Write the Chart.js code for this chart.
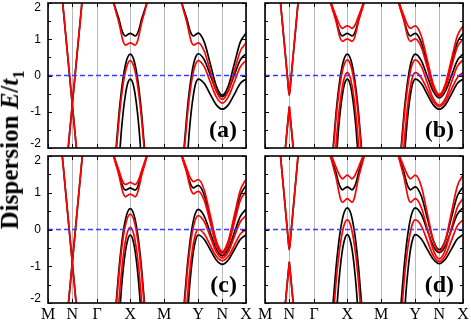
<!DOCTYPE html>
<html>
<head>
<meta charset="utf-8">
<script src="https://cdn.jsdelivr.net/npm/chart.js@4.4.0/dist/chart.umd.min.js"></script>
<style>
  html, body { margin: 0; padding: 0; background: #fff; }
  #wrap { position: relative; width: 471px; height: 321px; overflow: hidden; }
  #wrap canvas { position: absolute; left: 0; top: 0; }
  #ytitle { position: absolute; left: 12px; top: 150px; transform: translate(-50%, -50%) rotate(-90deg);
    white-space: nowrap; font: bold 25px "Liberation Serif", serif; color: #000; line-height: 1; }
  #ytitle sub { font-size: 0.65em; }
</style>
</head>
<body>
<div id="wrap">
  <canvas id="pa" width="471" height="321"></canvas>
  <canvas id="pb" width="471" height="321"></canvas>
  <canvas id="pc" width="471" height="321"></canvas>
  <canvas id="pd" width="471" height="321"></canvas>
  <div id="ytitle">Dispersion <i>E</i>/<i>t</i><sub>1</sub></div>
</div>
<script>
// high-symmetry path
const kPath = [0, 24.3, 49, 82.3, 116, 150.3, 174.3, 198];
const kLabels = ['M', 'N', 'Γ', 'X', 'M', 'Y', 'N', 'X'];
const eTicks = [-2, -1, 0, 1, 2];
const eMinor = [-1.5, -0.5, 0.5, 1.5];

// k samples: around X (dx -19..19), left of Y (dx -19..0), then Y -> N -> X
const kAroundX = [63.3, 65.8, 68.3, 71, 73.3, 75.3, 77.6, 79.8, 82.3, 84.8, 87, 89.3, 91.3, 93.6, 96.3, 98.8, 101.3];
const kYLeft = [131.3, 133.8, 136.3, 139, 141.3, 143.3, 145.6, 147.8, 150.3];
const kYNX = [156.3, 162.3, 168.3, 174.3, 180.3, 186.3, 192.3, 198];

// ---- panel (a) ----  half profiles (dx -19 .. 0), then Y->N->X
const aBlackX = [
  [2.22, 2.0, 1.78, 1.55, 1.3, 1.15, 1.09, 1.13, 1.16],
  [-4.05, -2.91, -1.93, -1.05, -0.45, -0.04, 0.31, 0.51, 0.59],
  [-6.56, -4.97, -3.61, -2.39, -1.55, -0.98, -0.5, -0.21, -0.1]
];
const aBlackY = [
  [2.22, 2.0, 1.78, 1.55, 1.3, 1.15, 1.09, 1.13, 1.17],
  [-4.04, -2.9, -1.92, -1.04, -0.44, -0.03, 0.32, 0.52, 0.6],
  [-6.56, -4.97, -3.61, -2.39, -1.55, -0.98, -0.5, -0.21, -0.1]
];
const aBlackN = [
  [0.92, 0.32, -0.29, -0.54, -0.29, 0.32, 0.92, 1.17],
  [0.43, 0.01, -0.41, -0.58, -0.41, 0.01, 0.43, 0.6],
  [-0.22, -0.52, -0.81, -0.93, -0.81, -0.52, -0.22, -0.1]
];
const aRedX = [
  [2.2, 1.97, 1.72, 1.45, 1.15, 0.93, 0.84, 0.87, 0.9],
  [-4.16, -3.04, -2.07, -1.21, -0.62, -0.21, 0.13, 0.33, 0.41]
];
const aRedY = aRedX;
const aRedN = [
  [0.67, 0.12, -0.43, -0.66, -0.43, 0.12, 0.67, 0.9],
  [0.24, -0.18, -0.59, -0.76, -0.59, -0.18, 0.24, 0.41]
];
const aDiracK = [[14.0, 24.3, 29.1], [19.5, 24.3, 34.6]];
const aDiracE = [[2.2, -0.8, -2.2], [-2.2, -0.8, 2.2]];

// ---- panel (b) ----
const bBlackX = [
  [2.22, 2.0, 1.78, 1.55, 1.3, 1.15, 1.09, 1.13, 1.16],
  [-4.05, -2.91, -1.93, -1.05, -0.45, -0.04, 0.31, 0.51, 0.59],
  [-6.56, -4.97, -3.61, -2.39, -1.55, -0.98, -0.5, -0.21, -0.1]
];
const bBlackY = bBlackX;
const bBlackN = [
  [0.91, 0.31, -0.3, -0.55, -0.3, 0.31, 0.91, 1.16],
  [0.41, -0.02, -0.44, -0.62, -0.44, -0.02, 0.41, 0.59],
  [-0.22, -0.52, -0.81, -0.93, -0.81, -0.52, -0.22, -0.1]
];
const bRedX = [
  [2.25, 2.04, 1.84, 1.64, 1.47, 1.36, 1.3, 1.34, 1.37],
  [2.2, 1.98, 1.75, 1.5, 1.22, 1.02, 0.94, 0.98, 1.01],
  [-4.14, -3.02, -2.05, -1.19, -0.6, -0.19, 0.15, 0.35, 0.43],
  [-5.6, -4.2, -3.0, -1.93, -1.19, -0.69, -0.27, -0.02, 0.08]
];
const bRedY = bRedX;
const bRedN = [
  [1.09, 0.43, -0.24, -0.52, -0.24, 0.43, 1.09, 1.37],
  [0.78, 0.22, -0.35, -0.58, -0.35, 0.22, 0.78, 1.01],
  [0.25, -0.2, -0.64, -0.82, -0.64, -0.2, 0.25, 0.43],
  [-0.06, -0.39, -0.72, -0.86, -0.72, -0.39, -0.06, 0.08]
];
const bDiracK = [[14.9, 22.8, 24.3, 25.8, 33.7], [19.7, 24.3, 28.9]];
const bDiracE = [[2.2, -0.15, -0.54, -0.15, 2.2], [-2.2, -0.86, -2.2]];

// ---- panel (c) ----
const cBlackX = [
  [2.22, 2.0, 1.77, 1.54, 1.29, 1.13, 1.07, 1.1, 1.13],
  [-4.07, -2.93, -1.95, -1.07, -0.47, -0.06, 0.29, 0.49, 0.57],
  [-6.6, -5.0, -3.78, -2.51, -1.65, -1.06, -0.56, -0.27, -0.15]
];
const cBlackY = [
  [2.23, 2.01, 1.79, 1.57, 1.33, 1.19, 1.13, 1.17, 1.2],
  [-4.09, -2.95, -1.97, -1.09, -0.49, -0.08, 0.27, 0.47, 0.55],
  [-6.6, -5.0, -3.78, -2.51, -1.65, -1.06, -0.56, -0.27, -0.15]
];
const cBlackN = [
  [0.93, 0.29, -0.35, -0.62, -0.35, 0.29, 0.93, 1.2],
  [0.36, -0.09, -0.53, -0.72, -0.53, -0.09, 0.36, 0.55],
  [-0.27, -0.55, -0.83, -0.95, -0.83, -0.55, -0.27, -0.15]
];
const cRedX = [
  [2.24, 2.02, 1.81, 1.6, 1.4, 1.28, 1.22, 1.25, 1.28],
  [2.2, 1.97, 1.73, 1.47, 1.18, 0.98, 0.89, 0.93, 0.96],
  [-4.15, -3.03, -2.06, -1.2, -0.61, -0.2, 0.14, 0.34, 0.42],
  [-5.62, -4.22, -3.02, -1.95, -1.21, -0.71, -0.29, -0.04, 0.06]
];
const cRedY = [
  [2.25, 2.04, 1.84, 1.64, 1.47, 1.36, 1.3, 1.33, 1.36],
  [2.2, 1.98, 1.76, 1.51, 1.24, 1.05, 0.97, 1.01, 1.04],
  [-4.19, -3.07, -2.1, -1.24, -0.65, -0.24, 0.1, 0.3, 0.38],
  [-5.68, -4.28, -3.08, -2.01, -1.27, -0.77, -0.35, -0.1, 0.0]
];
const cRedN = [
  [1.07, 0.38, -0.31, -0.6, -0.31, 0.38, 1.07, 1.36],
  [0.79, 0.18, -0.43, -0.68, -0.43, 0.18, 0.79, 1.04],
  [0.21, -0.2, -0.61, -0.78, -0.61, -0.2, 0.21, 0.38],
  [-0.12, -0.43, -0.73, -0.85, -0.73, -0.43, -0.12, 0.0]
];
const cDiracK = [[13.6, 24.3, 28.8], [19.8, 24.3, 35.0]];
const cDiracE = [[2.2, -0.9, -2.2], [-2.2, -0.9, 2.2]];

// ---- panel (d) ----
const dBlackX = [
  [2.22, 2.0, 1.78, 1.55, 1.3, 1.15, 1.08, 1.12, 1.16],
  [-4.05, -2.91, -1.93, -1.05, -0.45, -0.04, 0.31, 0.51, 0.59],
  [-6.58, -4.99, -3.7, -2.45, -1.6, -1.02, -0.53, -0.25, -0.14]
];
const dBlackY = dBlackX;
const dBlackN = [
  [0.91, 0.31, -0.3, -0.55, -0.3, 0.31, 0.91, 1.16],
  [0.41, -0.02, -0.45, -0.63, -0.45, -0.02, 0.41, 0.59],
  [-0.26, -0.54, -0.81, -0.93, -0.81, -0.54, -0.26, -0.14]
];
const dRedX = [
  [2.27, 2.07, 1.88, 1.7, 1.55, 1.44, 1.38, 1.43, 1.48],
  [2.18, 1.95, 1.7, 1.42, 1.1, 0.85, 0.74, 0.79, 0.84],
  [-4.57, -3.38, -2.36, -1.45, -0.82, -0.4, -0.04, 0.18, 0.26]
];
const dRedY = dRedX;
const dRedN = [
  [1.18, 0.44, -0.3, -0.6, -0.3, 0.44, 1.18, 1.48],
  [0.6, 0.02, -0.56, -0.8, -0.56, 0.02, 0.6, 0.84],
  [0.1, -0.31, -0.71, -0.87, -0.71, -0.31, 0.1, 0.26]
];
const dDiracK = [[14.9, 22.8, 24.3, 25.8, 33.7], [19.7, 24.3, 28.9]];
const dDiracE = [[2.2, -0.15, -0.55, -0.15, 2.2], [-2.2, -0.88, -2.2]];

const BLACK = '#000000';
const RED = '#ff0000';
const BLUE = '#3b3bff';

// X region is symmetric about X, so the half profile is mirrored
function bandPoints(xHalf, yHalf, nTail) {
  const xs = xHalf.concat(xHalf.slice(0, -1).reverse());
  const es = xs.concat([null], yHalf, nTail);
  const ks = kAroundX.concat([116], kYLeft, kYNX);
  return ks.map((k, i) => ({ x: k, y: es[i] }));
}

function lineSet(data, color, smooth) {
  return {
    data: data,
    borderColor: color,
    borderWidth: 1.7,
    pointRadius: 0,
    fill: false,
    spanGaps: false,
    cubicInterpolationMode: smooth ? 'monotone' : 'default',
    tension: smooth ? 0.4 : 0
  };
}

const framePlugin = {
  id: 'frame',
  afterDraw(chart, args, opts) {
    const { ctx, chartArea: a } = chart;
    const x = chart.scales.x, y = chart.scales.y;
    ctx.save();
    ctx.strokeStyle = '#000';
    ctx.lineWidth = 1;
    ctx.beginPath();
    eTicks.concat(eMinor).forEach(v => {
      const py = Math.round(y.getPixelForValue(v)) + 0.5;
      const len = eTicks.includes(v) ? 4 : 3;
      ctx.moveTo(a.left, py); ctx.lineTo(a.left + len, py);
      ctx.moveTo(a.right, py); ctx.lineTo(a.right - len, py);
    });
    kPath.forEach(v => {
      const px = Math.round(x.getPixelForValue(v)) + 0.5;
      ctx.moveTo(px, a.top); ctx.lineTo(px, a.top + 4);
      ctx.moveTo(px, a.bottom); ctx.lineTo(px, a.bottom - 4);
    });
    ctx.stroke();
    ctx.lineWidth = 1.6;
    ctx.strokeRect(a.left, a.top, a.right - a.left, a.bottom - a.top);

    ctx.fillStyle = '#000';
    if (opts.showY) {
      ctx.font = '12px "Liberation Sans", Arial, sans-serif';
      ctx.textAlign = 'right';
      ctx.textBaseline = 'middle';
      eTicks.forEach(v => {
        let py = y.getPixelForValue(v);
        py = Math.min(Math.max(py, a.top + 5), a.bottom - 4);
        ctx.fillText(String(v), a.left - 7, py);
      });
    }
    ctx.font = 'bold 24px "Liberation Serif", serif';
    ctx.textAlign = 'right';
    ctx.textBaseline = 'alphabetic';
    ctx.fillText(opts.tag, a.right - 9, a.bottom - 11);
    ctx.restore();
  }
};

const panels = [
  { id: 'pa', box: [48, 3, 246, 148], tag: '(a)', showY: true, showX: false,
    black: [aBlackX, aBlackY, aBlackN], red: [aRedX, aRedY, aRedN], dirac: [aDiracK, aDiracE] },
  { id: 'pb', box: [265, 3, 463, 148], tag: '(b)', showY: false, showX: false,
    black: [bBlackX, bBlackY, bBlackN], red: [bRedX, bRedY, bRedN], dirac: [bDiracK, bDiracE] },
  { id: 'pc', box: [48, 156, 246, 303], tag: '(c)', showY: true, showX: true,
    black: [cBlackX, cBlackY, cBlackN], red: [cRedX, cRedY, cRedN], dirac: [cDiracK, cDiracE] },
  { id: 'pd', box: [265, 156, 463, 303], tag: '(d)', showY: false, showX: true,
    black: [dBlackX, dBlackY, dBlackN], red: [dRedX, dRedY, dRedN], dirac: [dDiracK, dDiracE] }
];

const W = 471, H = 321, YW = 20, XH = 18;

panels.forEach(p => {
  const datasets = [];
  const diracSets = (color) => p.dirac[0].map((ks, i) =>
    lineSet(ks.map((k, j) => ({ x: k, y: p.dirac[1][i][j] })), color, ks.length > 3));
  // the blue zero line goes on top of the bands, then red, then black
  datasets.push({
    data: [{ x: 0, y: 0 }, { x: 198, y: 0 }],
    borderColor: BLUE, backgroundColor: BLUE, borderWidth: 1.3, borderDash: [5, 3],
    pointRadius: 0, fill: false, tension: 0
  });
  p.red[0].forEach((h, i) => datasets.push(lineSet(bandPoints(h, p.red[1][i], p.red[2][i]), RED, true)));
  datasets.push(...diracSets(RED));
  p.black[0].forEach((h, i) => datasets.push(lineSet(bandPoints(h, p.black[1][i], p.black[2][i]), BLACK, true)));
  datasets.push(...diracSets(BLACK));

  const [l, t, r, b] = p.box;
  new Chart(document.getElementById(p.id), {
    type: 'line',
    data: { datasets: datasets },
    options: {
      responsive: false,
      animation: false,
      layout: { padding: { left: l - YW, top: t, right: W - r, bottom: H - b - XH } },
      plugins: { legend: { display: false }, tooltip: { enabled: false }, frame: { tag: p.tag, showY: p.showY } },
      scales: {
        x: {
          type: 'linear', min: 0, max: 198,
          afterBuildTicks: s => { s.ticks = kPath.map(v => ({ value: v })); },
          afterFit: s => { s.height = XH; s.paddingLeft = 0; s.paddingRight = 0; },
          grid: { color: '#b8b8b8', lineWidth: 1, drawTicks: false },
          border: { display: false },
          ticks: {
            display: p.showX, autoSkip: false, maxRotation: 0, padding: 2, color: '#000',
            font: { family: '"Liberation Serif", serif', size: 16 },
            callback: (v, i) => kLabels[i]
          }
        },
        y: {
          min: -2, max: 2,
          afterFit: s => { s.width = YW; s.paddingTop = 0; s.paddingBottom = 0; },
          grid: { display: false },
          border: { display: false },
          ticks: { display: false, stepSize: 1 }
        }
      }
    },
    plugins: [framePlugin]
  });
});
</script>
</body>
</html>
